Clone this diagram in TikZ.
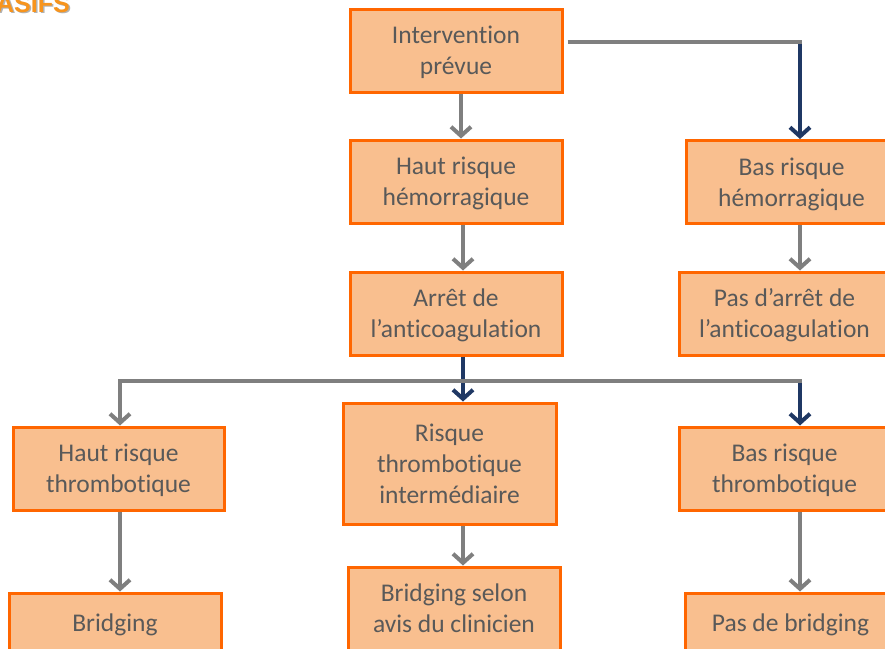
\documentclass[tikz,border=0pt]{standalone}
\usepackage{fontspec}
\setmainfont{Carlito}[Ligatures={NoCommon}]
\newfontfamily\titlefont{Liberation Sans}
\usetikzlibrary{arrows.meta}
\definecolor{boxfill}{HTML}{F9BF8F}
\definecolor{boxline}{HTML}{FF6600}
\definecolor{txtgray}{HTML}{595959}
\definecolor{argray}{HTML}{7F7F7F}
\definecolor{arnavy}{HTML}{1F3864}
\definecolor{ttlorange}{HTML}{F7941D}
\tikzset{
  flowbox/.style={draw=boxline, fill=boxfill, line width=3pt, rectangle,
    minimum width=212pt, minimum height=83pt, inner sep=0pt,
    align=center, text=txtgray, text depth=0pt,
    font=\fontsize{25.5}{31}\selectfont},
  garrow/.style={draw=argray, line width=4pt,
    -{Straight Barb[length=9pt,width=20pt,line width=4pt]}},
  narrow/.style={draw=arnavy, line width=4pt,
    -{Straight Barb[length=9pt,width=20pt,line width=4pt]}},
  gline/.style={draw=argray, line width=4pt},
  nline/.style={draw=arnavy, line width=4pt},
}
\begin{document}
\begin{tikzpicture}[x=1pt,y=-1pt]
\useasboundingbox (0,0) rectangle (885,648);
\clip (0,0) rectangle (885,648);
\fill[white] (0,0) rectangle (885,648);

% title (clipped)
\node[anchor=base east, inner sep=0pt, text=black!30, font=\titlefont\bfseries\fontsize{25}{28}\selectfont] (ttlsh) at (71.5,13.5) {ASIFS};
\node[anchor=base east, inner sep=0pt, text=ttlorange, font=\titlefont\bfseries\fontsize{25}{28}\selectfont] (ttl) at (70,12) {ASIFS};

% boxes
\node[flowbox] (iv)  at (456,50.5)   {Intervention\\prévue};
\node[flowbox] (hrh) at (456,181.5)  {Haut risque\\hémorragique};
\node[flowbox, minimum width=211pt] (brh) at (791.5,182) {Bas risque\\hémorragique};
\node[flowbox] (arr) at (456,313.5)  {Arrêt de\\l’anticoagulation};
\node[flowbox, minimum width=211pt] (pas) at (784.5,313.5) {Pas d’arrêt de\\l’anticoagulation};
\node[flowbox, minimum width=211pt] (hrt) at (118.5,468.5) {Haut risque\\thrombotique};
\node[flowbox, minimum width=213pt, minimum height=121pt] (rti) at (449.5,463.5) {Risque\\thrombotique\\intermédiaire};
\node[flowbox, minimum width=211pt] (brt) at (784.5,468.5) {Bas risque\\thrombotique};
\node[flowbox] (brg) at (115,634.5)  {\raisebox{24pt}{Bridging}};
\node[flowbox] (bsa) at (454,608.5)  {Bridging selon\\avis du clinicien};
\node[flowbox, minimum width=211pt] (pdb) at (790.5,634.5) {\raisebox{24pt}{Pas de bridging}};

% corner / bus coordinates
\coordinate (c1) at (800,42);
\coordinate (bl) at (120,381);
\coordinate (br) at (800,381);

% connectors
\draw[garrow] ([xshift=5pt]iv.south) -- ([xshift=5pt]hrh.north);
\draw[narrow] (c1) -- ([xshift=8.5pt]brh.north);
\draw[gline] ([xshift=4pt,yshift=8.5pt]iv.east) -- ([xshift=2pt]c1);
\draw[garrow] ([xshift=7pt]hrh.south) -- ([xshift=7pt]arr.north);
\draw[garrow] ([xshift=8.5pt]brh.south) -- ([xshift=8.5pt]brh.south |- pas.north);
\draw[narrow] ([xshift=7pt]arr.south) -- ([xshift=13.5pt]rti.north);
\draw[narrow] (br) -- ([xshift=15.5pt]brt.north);
\draw[gline] ([xshift=-2pt]bl) -- ([xshift=2pt]br);
\draw[garrow] (bl) -- ([xshift=1.5pt]hrt.north);
\draw[garrow] ([xshift=1.5pt]hrt.south) -- ([xshift=1.5pt]hrt.south |- brg.north);
\draw[garrow] ([xshift=13.5pt]rti.south) -- ([xshift=13.5pt]rti.south |- bsa.north);
\draw[garrow] ([xshift=15.5pt]brt.south) -- ([xshift=15.5pt]brt.south |- pdb.north);
\end{tikzpicture}
\end{document}
